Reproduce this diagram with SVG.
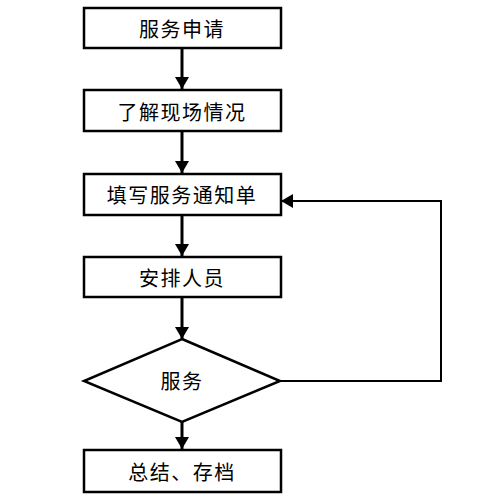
<svg xmlns="http://www.w3.org/2000/svg" width="489" height="500" viewBox="0 0 489 500">
<style>
.box{fill:#fff;stroke:#000;stroke-width:2.5}
.t{font-family:"Noto Sans CJK SC","Liberation Sans",sans-serif;font-size:20px;letter-spacing:1.5px;text-anchor:middle;dominant-baseline:central;fill:#000}
.c{fill:none;stroke:#000;stroke-width:3}
.fb{fill:none;stroke:#000;stroke-width:2}
</style>
<defs>
<marker id="ah" viewBox="0 0 12 14" refX="12" refY="7" markerWidth="12" markerHeight="14" markerUnits="userSpaceOnUse" orient="auto">
<path d="M0,0 L12,7 L0,14 Z" fill="#000"/>
</marker>
</defs>
<rect width="489" height="500" fill="#fff"/>
<g id="connectors">
<line class="c" x1="182" y1="49" x2="182" y2="89" marker-end="url(#ah)"/>
<line class="c" x1="182" y1="132" x2="182" y2="173" marker-end="url(#ah)"/>
<line class="c" x1="182" y1="215" x2="182" y2="256" marker-end="url(#ah)"/>
<line class="c" x1="182" y1="297" x2="182" y2="339" marker-end="url(#ah)"/>
<line class="c" x1="182" y1="422" x2="182" y2="449" marker-end="url(#ah)"/>
<polyline class="fb" points="280,381 441,381 441,201 281,201" marker-end="url(#ah)"/>
</g>
<g id="n1"><rect class="box" x="84" y="8" width="197" height="40"/><text class="t" x="182" y="28">服务申请</text></g>
<g id="n2"><rect class="box" x="84" y="90" width="197" height="41"/><text class="t" x="182" y="111">了解现场情况</text></g>
<g id="n3"><rect class="box" x="84" y="174" width="197" height="41"/><text class="t" x="182" y="194">填写服务通知单</text></g>
<g id="n4"><rect class="box" x="84" y="257" width="197" height="40"/><text class="t" x="182" y="277">安排人员</text></g>
<g id="n5"><polygon class="box" points="182,339 280,381 182,422 84,381"/><text class="t" x="182" y="380">服务</text></g>
<g id="n6"><rect class="box" x="84" y="450" width="197" height="42"/><text class="t" x="182" y="471">总结、存档</text></g>
</svg>
